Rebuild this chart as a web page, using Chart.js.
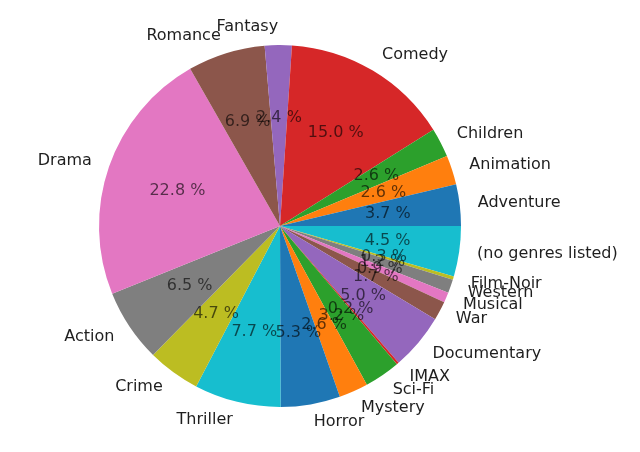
<!DOCTYPE html>
<html>
<head>
<meta charset="utf-8">
<script src="https://cdn.jsdelivr.net/npm/chart.js@4"></script>
<style>
  html, body { margin: 0; padding: 0; background: #fff; }
  #wrap { width: 640px; height: 452px; position: relative; }
</style>
</head>
<body>
<div id="wrap"><canvas id="pieChart"></canvas></div>
<script>
// ジャンル別の割合 (%), matplotlib の順 (3時方向から反時計回り)
const genres = ['Adventure', 'Animation', 'Children', 'Comedy', 'Fantasy', 'Romance', 'Drama',
    'Action', 'Crime', 'Thriller', 'Horror', 'Mystery', 'Sci-Fi', 'IMAX', 'Documentary',
    'War', 'Musical', 'Western', 'Film-Noir', '(no genres listed)'];
const shares = [3.7, 2.6, 2.6, 15.0, 2.4, 6.9, 22.8, 6.5, 4.7, 7.7, 5.3, 2.6, 3.2, 0.2, 5.0,
    1.7, 0.9, 1.2, 0.3, 4.5];
const tab10 = ['#1f77b4', '#ff7f0e', '#2ca02c', '#d62728', '#9467bd',
    '#8c564b', '#e377c2', '#7f7f7f', '#bcbd22', '#17becf'];

// Chart.js は時計回りなので逆順にして 3時方向から描く
const labels = genres.slice().reverse();
const values = shares.slice().reverse();
const colors = genres.map((g, i) => tab10[i % 10]).reverse();
const total = values.reduce((a, b) => a + b, 0);

const FONT = '"DejaVu Sans", sans-serif';

// 外側ラベルと割合の文字を描くプラグイン
const pieLabels = {
    id: 'pieLabels',
    afterDatasetsDraw(chart) {
        const ctx = chart.ctx;
        const arcs = chart.getDatasetMeta(0).data;
        ctx.save();
        ctx.textBaseline = 'middle';
        arcs.forEach((arc, i) => {
            const mid = (arc.startAngle + arc.endAngle) / 2;
            const r = arc.outerRadius;
            const cos = Math.cos(mid), sin = Math.sin(mid);

            // ジャンル名 (1.1 r)
            ctx.font = '16px ' + FONT;
            ctx.fillStyle = '#1e1e1e';
            ctx.textAlign = cos > 0 ? 'left' : 'right';
            ctx.fillText(labels[i], arc.x + 1.1 * r * cos, arc.y + 1.1 * r * sin);

            // 割合 (0.6 r)
            const pct = (values[i] / total * 100).toFixed(1) + ' %';
            ctx.fillStyle = 'rgba(0, 0, 0, 0.62)';
            ctx.textAlign = 'center';
            ctx.fillText(pct, arc.x + 0.6 * r * cos, arc.y + 0.6 * r * sin);
        });
        ctx.restore();
    }
};

new Chart(document.getElementById('pieChart'), {
    type: 'pie',
    data: {
        labels: labels,
        datasets: [{
            data: values,
            backgroundColor: colors,
            borderWidth: 0
        }]
    },
    options: {
        responsive: true,
        maintainAspectRatio: false,
        animation: false,
        rotation: 90,
        layout: { padding: { left: 99, right: 179, top: 45, bottom: 45 } },
        plugins: {
            legend: { display: false },
            tooltip: { enabled: false }
        }
    },
    plugins: [pieLabels]
});
</script>
</body>
</html>
